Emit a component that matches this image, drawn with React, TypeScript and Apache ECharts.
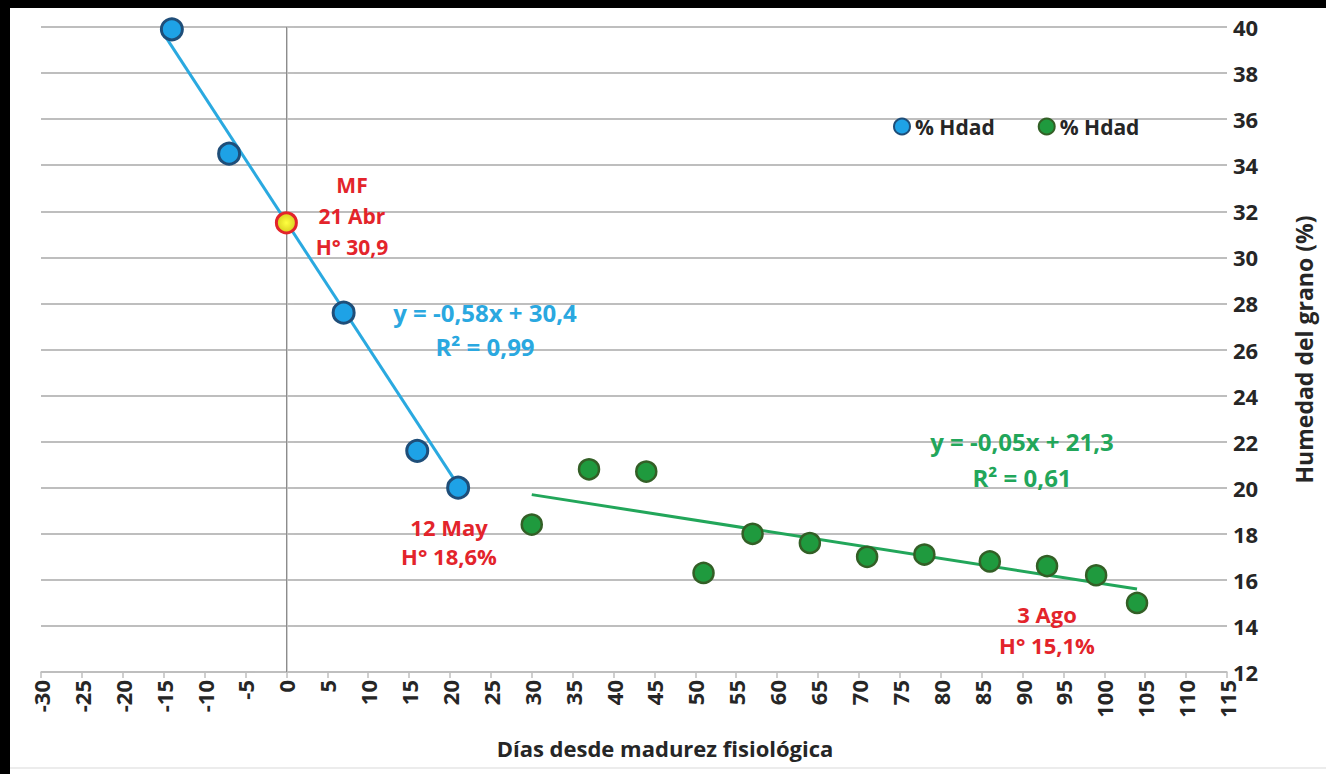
import React, { useEffect, useRef } from "react";
import * as echarts from "echarts";

// Data
const blueDays = [-14, -7, 0, 7, 16, 21];
const blueMoisture = [39.9, 34.5, 31.5, 27.6, 21.6, 20.0];
const mfIndex = 2;
const greenDays = [30, 37, 44, 51, 57, 64, 71, 78, 86, 93, 99, 104];
const greenMoisture = [18.4, 20.8, 20.7, 16.3, 18.0, 17.6, 17.0, 17.1, 16.8, 16.6, 16.2, 15.0];
const blueTrendDays = [-15, 21];
const blueTrendMoisture = [39.7, 20.1];
const greenTrendDays = [30, 104];
const greenTrendMoisture = [19.7, 15.6];
const xMin = -30;
const xMax = 115;
const xStep = 5;
const yMin = 12;
const yMax = 40;
const yStep = 2;
const seriesNames = ["% Hdad", "% Hdad "];
const xName = "Días desde madurez fisiológica";
const yName = "Humedad del grano (%)";
const mfLabels = ["MF", "21 Abr", "H° 30,9"];
const mayLabels = ["12 May", "H° 18,6%"];
const agoLabels = ["3 Ago", "H° 15,1%"];
const blueEq = ["y = -0,58x + 30,4", "R² = 0,99"];
const greenEq = ["y = -0,05x + 21,3", "R² = 0,61"];

const FONT = "'Open Sans', Lato, sans-serif";
const RED = "#e3242b";
const BLUE_TXT = "#2aa8e0";
const GREEN_TXT = "#22a65a";
const DARK = "#262626";

function zip(xs: number[], ys: number[]) {
  return xs.map((x, i) => [x, ys[i]]);
}

function txt(text: string, x: number, y: number, color: string, size: number) {
  return {
    type: "text",
    x,
    y,
    z: 100,
    style: {
      text,
      fill: color,
      font: `bold ${size}px ${FONT}`,
      align: "center",
      verticalAlign: "middle",
    },
  };
}

export default function App() {
  const ref = useRef<HTMLDivElement>(null);
  useEffect(() => {
    if (!ref.current) return;
    const chart = echarts.init(ref.current, null, { renderer: "svg" });
    const blueData = zip(blueDays, blueMoisture).map((p, i) =>
      i === mfIndex
        ? {
            value: p,
            symbolSize: 20,
            itemStyle: {
              color: new echarts.graphic.RadialGradient(0.5, 0.5, 0.5, [
                { offset: 0, color: "#ffff40" },
                { offset: 1, color: "#d8d020" },
              ]),
              borderColor: RED,
              borderWidth: 3,
            },
          }
        : { value: p }
    );
    chart.setOption({
      animation: false,
      backgroundColor: "#ffffff",
      textStyle: { fontFamily: FONT },
      grid: { left: 41, right: 99, top: 27, bottom: 102, containLabel: false },
      legend: {
        left: 888,
        top: 111,
        itemWidth: 16,
        itemHeight: 16,
        itemGap: 43,
        data: [
          { name: seriesNames[0], icon: "circle" },
          { name: seriesNames[1], icon: "circle" },
        ],
        formatter: (n: string) => n.trim(),
        textStyle: { fontSize: 21, fontWeight: "bold", color: DARK, fontFamily: FONT },
      },
      xAxis: {
        type: "value",
        min: xMin,
        max: xMax,
        interval: xStep,
        axisLine: { show: true, onZero: false, lineStyle: { color: "#bfbfbf", width: 1.5 } },
        axisTick: { show: true, length: 6, lineStyle: { color: "#bfbfbf", width: 1.5 } },
        splitLine: { show: false },
        axisLabel: {
          rotate: 90,
          margin: 8,
          fontSize: 22,
          fontWeight: "bold",
          color: DARK,
          fontFamily: FONT,
        },
      },
      yAxis: {
        type: "value",
        position: "right",
        min: yMin,
        max: yMax,
        interval: yStep,
        name: yName,
        nameLocation: "middle",
        nameRotate: 90,
        nameGap: 65,
        nameTextStyle: { fontSize: 23, fontWeight: "bold", color: DARK, fontFamily: FONT },
        axisLine: { show: true, lineStyle: { color: "#bfbfbf", width: 1.5 } },
        axisTick: { show: true, inside: false, length: 8, lineStyle: { color: "#bfbfbf", width: 1.5 } },
        splitLine: { show: true, lineStyle: { color: "#a8a8a8", width: 1.5 } },
        axisLabel: { margin: 6, fontSize: 22, fontWeight: "bold", color: DARK, fontFamily: FONT },
      },
      series: [
        {
          type: "line",
          name: "blueTrend",
          data: zip(blueTrendDays, blueTrendMoisture),
          showSymbol: false,
          silent: true,
          lineStyle: { color: "#2aa9e0", width: 3 },
          z: 3,
          markLine: {
            silent: true,
            symbol: ["none", "none"],
            label: { show: false },
            lineStyle: { color: "#8c8c8c", width: 1, type: "solid" },
            data: [{ xAxis: 0 }],
          },
        },
        {
          type: "line",
          name: "greenTrend",
          data: zip(greenTrendDays, greenTrendMoisture),
          showSymbol: false,
          silent: true,
          lineStyle: { color: "#22a65a", width: 3 },
          z: 3,
        },
        {
          type: "scatter",
          name: seriesNames[0],
          data: blueData,
          symbolSize: 21,
          itemStyle: { color: "#1ea2e6", borderColor: "#1f4e79", borderWidth: 3, opacity: 1 },
          z: 5,
        },
        {
          type: "scatter",
          name: seriesNames[1],
          data: zip(greenDays, greenMoisture),
          symbolSize: 20,
          itemStyle: { color: "#1f9a3e", borderColor: "#335f26", borderWidth: 2.5, opacity: 1 },
          z: 5,
        },
      ],
      graphic: [
        { type: "rect", shape: { x: 0, y: 0, width: 1326, height: 8 }, style: { fill: "#000" }, z: 200 },
        { type: "rect", shape: { x: 0, y: 0, width: 10, height: 774 }, style: { fill: "#000" }, z: 200 },
        { type: "line", shape: { x1: 10, y1: 768, x2: 1326, y2: 768 }, style: { stroke: "#d9d9d9", lineWidth: 1 }, z: 150 },
        txt(xName, 665, 748, DARK, 22),
        txt(mfLabels[0], 352, 185, RED, 21),
        txt(mfLabels[1], 352, 216, RED, 21),
        txt(mfLabels[2], 352, 247, RED, 21),
        txt(blueEq[0], 485, 312, BLUE_TXT, 24),
        txt(blueEq[1], 485, 346, BLUE_TXT, 24),
        txt(mayLabels[0], 449, 527, RED, 22),
        txt(mayLabels[1], 449, 556, RED, 22),
        txt(greenEq[0], 1022, 441, GREEN_TXT, 24),
        txt(greenEq[1], 1022, 477, GREEN_TXT, 24),
        txt(agoLabels[0], 1047, 614, RED, 22),
        txt(agoLabels[1], 1047, 645, RED, 22),
      ],
    });
    return () => chart.dispose();
  }, []);
  return (
    <div
      ref={ref}
      style={{ position: "fixed", left: 0, top: 0, width: 1326, height: 774, background: "#fff" }}
    />
  );
}
